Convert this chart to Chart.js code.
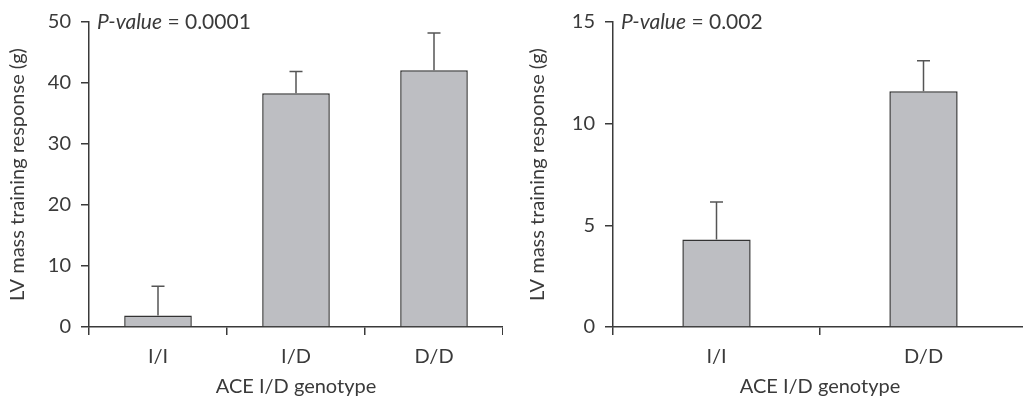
<!DOCTYPE html>
<html>
<head>
<meta charset="utf-8">
<title>LV mass training response by ACE I/D genotype</title>
<script src="https://cdn.jsdelivr.net/npm/chart.js@4.4.1/dist/chart.umd.min.js"></script>
<style>
  html, body { margin: 0; padding: 0; background: #fff; overflow: hidden; }
  body { width: 1023px; height: 399px; position: relative; }
  .panel { position: absolute; top: 0; height: 399px; }
  #leftPanel { left: 0; width: 503px; }
  #rightPanel { left: 520px; width: 507px; }
</style>
</head>
<body>
<div class="panel" id="leftPanel"><canvas id="leftChart"></canvas></div>
<div class="panel" id="rightPanel"><canvas id="rightChart"></canvas></div>

<script>
// Left panel: three genotypes
const leftCategories = ['I/I', 'I/D', 'D/D'];
const leftMeans = [1.9, 38.3, 42.1];
const leftErrors = [4.8, 3.6, 6.1];
const leftTicks = [0, 10, 20, 30, 40, 50];
const leftPValue = '0.0001';

// Right panel: two genotypes
const rightCategories = ['I/I', 'D/D'];
const rightMeans = [4.3, 11.6];
const rightErrors = [1.85, 1.5];
const rightTicks = [0, 5, 10, 15];
const rightPValue = '0.002';

const yTitle = 'LV mass training response (g)';
const xTitle = 'ACE I/D genotype';

const INK = '#3a3a3a';
const BAR_FILL = '#bdbec2';
const FONT = 'Lato, "Open Sans", sans-serif';

Chart.defaults.font.family = FONT;
Chart.defaults.font.size = 20;
Chart.defaults.color = INK;

// error bars (upper only), drawn from the bar top
const errorBars = {
  id: 'errorBars',
  afterDatasetsDraw(chart, args, opts) {
    const { ctx, scales: { y } } = chart;
    const meta = chart.getDatasetMeta(0);
    ctx.save();
    ctx.strokeStyle = '#555';
    ctx.lineWidth = 1.5;
    meta.data.forEach((bar, i) => {
      const top = y.getPixelForValue(opts.means[i] + opts.errors[i]);
      ctx.beginPath();
      ctx.moveTo(bar.x, bar.y);
      ctx.lineTo(bar.x, top);
      ctx.moveTo(bar.x - 6.5, top);
      ctx.lineTo(bar.x + 6.5, top);
      ctx.stroke();
    });
    ctx.restore();
  }
};

// "P-value = ..." note at the top left of the plot
const pNote = {
  id: 'pNote',
  afterDraw(chart, args, opts) {
    const { ctx, chartArea } = chart;
    ctx.save();
    ctx.fillStyle = INK;
    ctx.textBaseline = 'middle';
    let x = chartArea.left + 8;
    const yPos = chartArea.top;
    ctx.font = 'italic 21px ' + FONT;
    ctx.fillText('P-value', x, yPos);
    x += ctx.measureText('P-value').width;
    ctx.font = '21px ' + FONT;
    ctx.fillText(' = ' + opts.text, x, yPos);
    ctx.restore();
  }
};

const makeChart = (id, labels, means, errors, ticks, pText, barPct, axisWidth) => {
  const step = ticks[1] - ticks[0];
  return new Chart(document.getElementById(id), {
    type: 'bar',
    data: {
      labels: labels,
      datasets: [{
        data: means,
        backgroundColor: BAR_FILL,
        borderColor: '#333',
        borderWidth: 1.5,
        borderSkipped: 'start',
        barPercentage: barPct,
        categoryPercentage: 1
      }]
    },
    options: {
      responsive: true,
      maintainAspectRatio: false,
      animation: false,
      layout: { padding: { top: 20, right: 0, bottom: 0, left: 0 } },
      plugins: {
        legend: { display: false },
        tooltip: { enabled: false },
        errorBars: { means: means, errors: errors },
        pNote: { text: pText }
      },
      scales: {
        x: {
          offset: true,
          border: { display: true, color: INK, width: 1.5 },
          grid: { offset: true, drawOnChartArea: false, drawTicks: true, tickLength: 8, color: INK, lineWidth: 1.5 },
          ticks: { padding: 10, color: INK, maxRotation: 0 },
          title: { display: true, text: xTitle, color: INK, padding: { top: 2, bottom: 0 } },
          afterFit: (scale) => { scale.height = 72; }
        },
        y: {
          min: ticks[0],
          max: ticks[ticks.length - 1],
          border: { display: true, color: INK, width: 1.5 },
          grid: { drawOnChartArea: false, drawTicks: true, tickLength: 8, color: INK, lineWidth: 1.5 },
          ticks: { stepSize: step, padding: 10, color: INK },
          title: { display: true, text: yTitle, color: INK, padding: { top: 6, bottom: 0 } },
          afterFit: (scale) => { scale.width = axisWidth; }
        }
      }
    },
    plugins: [errorBars, pNote]
  });
};

makeChart('leftChart', leftCategories, leftMeans, leftErrors, leftTicks, leftPValue, 0.49, 89);
makeChart('rightChart', rightCategories, rightMeans, rightErrors, rightTicks, rightPValue, 0.33, 93);
</script>
</body>
</html>
